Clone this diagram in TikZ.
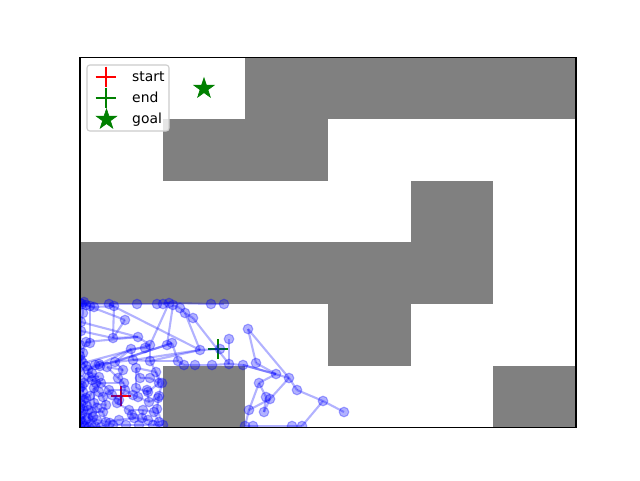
\documentclass[tikz,border=0pt]{standalone}
\usepackage{fontspec}
\setmainfont{DejaVu Sans}
\usetikzlibrary{shapes.geometric}
\definecolor{mplgreen}{RGB}{0,128,0}
\definecolor{obstgray}{RGB}{128,128,128}
\begin{document}
\begin{tikzpicture}[x=1pt,y=-1pt,
  obst/.style={fill=obstgray},
  edge/.style={draw=blue, draw opacity=0.3, line width=2.1},
  pt/.style={circle, fill=blue, fill opacity=0.3, draw=blue, draw opacity=0.3, line width=1.1, minimum size=9.6, inner sep=0},
  plusm/.pic={\draw[line width=2.4] (-10,0) -- (10,0) (0,-10) -- (0,10);},
  goalstar/.style={star, star points=5, star point ratio=2.618, fill=mplgreen, draw=mplgreen, line width=0.6, minimum size=21.5, inner sep=0},
  legbox/.style={draw=black!20, line width=1.1, fill=white, fill opacity=0.8, rounded corners=2.8, minimum width=82, minimum height=66, inner sep=0},
  legtext/.style={anchor=base west, inner sep=0, font=\fontsize{13.9}{16}\selectfont}
]
\useasboundingbox (0,0) rectangle (640,480);
\fill[white] (0,0) rectangle (640,480);
% obstacles
\fill[obst] (245.33,57.6) rectangle (576,119.2);
\fill[obst] (162.67,119.2) rectangle (328,180.8);
\fill[obst] (410.67,180.8) rectangle (493.33,242.4);
\fill[obst] (80,242.4) rectangle (493.33,304);
\fill[obst] (328,304) rectangle (410.67,365.6);
\fill[obst] (162.67,365.6) rectangle (245.33,427.2);
\fill[obst] (493.33,365.6) rectangle (576,427.2);
% start, end, goal
\coordinate (startpt) at (121,396);
\coordinate (endpt) at (218,349);
\pic[draw=red] at (startpt) {plusm};
\pic[draw=mplgreen] at (endpt) {plusm};
\node[goalstar] (goal) at (204,88.5) {};
% tree
\begin{scope}
\clip (80,57.6) rectangle (576,427.2);
\foreach \i/\x/\y in {1/82/304, 2/86/305, 3/90/306, 4/94/307, 5/109/304, 6/114/306, 7/137/304, 8/157/304, 9/163/304, 10/169/303,
 11/173/305, 12/211/304, 13/224/304, 14/180/308, 15/185/313, 16/193/318, 17/125/320, 18/83/313, 19/81/322, 20/113/338,
 21/138/337, 22/86/342, 23/90/343, 24/131/349, 25/145/348, 26/150/345, 27/167/345, 28/172/343, 29/200/350, 30/220/349,
 31/229/339, 32/248/329, 33/83/353, 34/81/360, 35/178/361, 36/184/365, 37/195/365, 38/212/365, 39/229/364, 40/243/365,
 41/256/363, 42/115/362, 43/133/360, 44/150/361, 45/100/366, 46/95/365, 47/107/367, 48/123/370, 49/88/370, 50/83/363,
 51/136/368, 52/156/372, 53/99/364, 54/276/374, 55/289/378, 56/259/383, 57/297/390, 58/270/399, 59/266/397, 60/323/401,
 61/344/412, 62/249/410, 63/264/412, 64/245/426, 65/253/426, 66/292/426, 67/302/426, 68/89/377, 69/101/383, 70/94/388,
 71/99/392, 72/83/392, 73/124/383, 74/136/388, 75/148/392, 76/159/383, 77/138/397, 78/149/402, 79/158/398, 80/94/403,
 81/106/405, 82/119/400, 83/83/410, 84/103/412, 85/129/410, 86/143/410, 87/154/412, 88/88/418, 89/106/422, 90/119/420,
 91/134/418, 92/148/420, 93/159/422, 94/89/427, 95/101/427, 96/113/425, 97/126/425, 98/139/425, 99/153/425, 100/163/425,
 101/162/383, 102/159/396, 103/157/409, 104/80/372, 105/80/380, 106/82/386, 107/80/398, 108/81/404, 109/80/416, 110/82/422,
 111/85/427, 112/80/427, 113/81/331, 114/80/345, 115/92/380, 116/103/397, 117/117/403, 118/125/390, 119/133/395, 120/147/390,
 121/110/423, 122/112/395, 123/132/415, 124/142/418, 125/86/398, 126/92/412, 127/97/420, 128/84/383, 129/118/378, 130/109/390,
 131/140/378, 132/150/378, 133/84/400, 134/87/406, 135/82/414, 136/86/420, 137/91/424, 138/80/408, 139/84/426, 140/93/417,
 141/97/408, 142/90/396, 143/96/383, 144/99/377, 145/92/373, 146/86/366, 147/80/388, 148/80/356, 149/95/426, 150/80/420,
 151/88/410, 152/80/303, 153/84/302}
  \coordinate (n\i) at (\x,\y);
\foreach \a/\b in {1/2, 2/3, 3/4, 1/5, 5/7, 7/8, 8/10, 9/10, 10/12, 12/13, 4/6, 6/5,
 5/29, 6/20, 2/17, 17/20, 20/113, 20/21, 22/21, 21/26, 26/10, 24/25, 25/26, 11/27, 27/28, 11/14, 14/15, 15/16, 15/29, 16/39,
 31/39, 29/30, 29/43, 29/44, 35/36, 36/37, 37/38, 38/39, 39/40, 40/54, 40/55, 32/55, 32/41, 41/54, 56/54, 55/58, 58/62, 58/63,
 57/60, 60/61, 60/67, 55/57, 62/64, 64/65, 65/66, 66/67, 59/56, 59/63,
 22/33, 33/34, 34/50, 50/49, 49/68, 68/115, 115/69, 69/73, 73/129, 129/48, 48/42, 42/43, 43/44, 44/52, 52/101, 101/102,
 102/103, 103/100, 46/45, 45/53, 53/42, 47/48, 49/46, 42/24, 43/24, 26/44, 28/35, 35/44, 51/52, 51/74, 74/75, 75/76, 76/52,
 120/75, 120/78, 77/78, 78/79, 79/102, 119/77, 118/119, 118/73, 82/118, 82/117, 117/85, 85/86, 86/87, 87/93, 91/92, 92/93,
 93/99, 99/100, 98/99, 97/98, 96/97, 121/96, 95/121, 94/95, 111/94, 112/111, 110/112, 109/110, 83/109, 108/83, 107/108,
 125/107, 72/125, 106/72, 105/106, 104/105, 34/104, 114/33, 113/114, 19/113, 18/19, 1/18,
 80/81, 81/84, 84/89, 89/90, 90/91, 91/123, 123/85, 124/86, 124/92, 116/81, 116/71, 71/70, 70/80, 70/69, 126/84, 126/88,
 88/127, 127/89, 128/68, 128/72, 130/116, 130/69, 130/118, 131/51, 131/132, 132/76, 122/82, 122/130,
 50/26, 49/24, 45/27, 42/28, 19/21, 62/56, 3/23, 23/22, 47/129,
 133/125, 134/133, 134/151, 135/109, 136/110, 137/94, 139/111, 138/108, 140/88, 141/84, 142/70, 143/69, 144/68, 145/49,
 146/50, 147/106, 148/34, 149/95, 150/110, 151/83, 152/1, 153/2, 141/80, 140/127, 142/125, 143/115, 145/144, 146/104}
  \draw[edge] (n\a) -- (n\b);
\foreach \i in {1,...,153}
  \node[pt] (c\i) at (n\i) {};
\end{scope}
% axes frame
\draw[line width=1.1] (80,57.6) rectangle (576,427.2);
% legend
\node[legbox] (legend) at (128,98) {};
\coordinate (lstart) at (105.7,76.7);
\coordinate (lend) at (105.7,97.7);
\pic[draw=red] at (lstart) {plusm};
\pic[draw=mplgreen] at (lend) {plusm};
\node[goalstar] (lgoal) at (106.5,119.5) {};
\node[legtext] (tstart) at (132,81) {start};
\node[legtext] (tend) at (132,102) {end};
\node[legtext] (tgoal) at (132,123) {goal};
\end{tikzpicture}
\end{document}
